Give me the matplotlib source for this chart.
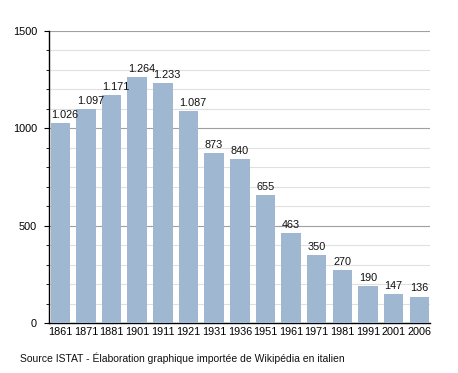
import matplotlib
matplotlib.use("Agg")
import matplotlib.pyplot as plt
from matplotlib.ticker import MultipleLocator

years = ["1861", "1871", "1881", "1901", "1911", "1921", "1931", "1936",
         "1951", "1961", "1971", "1981", "1991", "2001", "2006"]
population = [1026, 1097, 1171, 1264, 1233, 1087, 873, 840, 655, 463, 350, 270, 190, 147, 136]
labels = ["1.026", "1.097", "1.171", "1.264", "1.233", "1.087", "873", "840",
          "655", "463", "350", "270", "190", "147", "136"]

plt.rcParams['font.family'] = ['Liberation Sans', 'DejaVu Sans']

fig = plt.figure(figsize=(4.58, 3.73), dpi=100)
ax = fig.add_axes([0.107, 0.134, 0.832, 0.783])

x = list(range(len(years)))
w = 0.76
ax.bar(x, population, width=w, color="#9fb7d0", zorder=3)
for xi, v, lab in zip(x, population, labels):
    ax.text(xi - w / 2 + 0.02, v + 16, lab, ha="left", va="bottom", fontsize=7.8, color="#111111", zorder=4)

ax.set_xlim(-0.44, len(years) - 0.58)
ax.set_ylim(0, 1500)
ax.yaxis.set_major_locator(MultipleLocator(500))
ax.yaxis.set_minor_locator(MultipleLocator(100))
ax.grid(axis="y", which="major", color="#a0a0a0", linewidth=0.8, zorder=0)
ax.grid(axis="y", which="minor", color="#e0e0e0", linewidth=0.8, zorder=0)
ax.set_xticks(x)
ax.set_xticklabels(years, fontsize=7.8)
ax.tick_params(axis="x", length=0, pad=3)
ax.tick_params(axis="y", which="major", length=3.6, width=0.8, labelsize=7.8, pad=5)
ax.tick_params(axis="y", which="minor", length=2, width=0.6)
for s in ["top", "right"]:
    ax.spines[s].set_visible(False)
ax.spines["left"].set_linewidth(1.0)
ax.spines["bottom"].set_linewidth(1.0)

fig.text(20 / 458, 1 - 358 / 373, "Source ISTAT - Élaboration graphique importée de Wikipédia en italien",
         fontsize=7.5, ha="left", va="center", color="#111111")

fig.savefig("out.png", dpi=100)
